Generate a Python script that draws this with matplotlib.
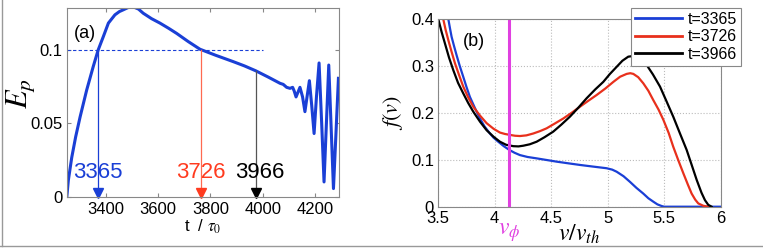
import numpy as np
import matplotlib
matplotlib.use("Agg")
import matplotlib.pyplot as plt
from matplotlib.lines import Line2D

plt.rcParams['font.family'] = ['Liberation Sans', 'DejaVu Sans']
plt.rcParams['mathtext.fontset'] = 'stix'

# ---- panel (a) data: E_p vs t/tau0
t_a = [3251, 3257, 3270, 3285, 3302, 3327, 3352, 3371, 3391, 3410, 3435, 3452, 3467,
       3485, 3505, 3525, 3543, 3575, 3607, 3640, 3671, 3715, 3760, 3820, 3887, 3930,
       3973, 4020, 4066, 4078, 4091, 4104, 4114, 4120, 4127, 4134, 4142, 4152, 4161,
       4169, 4178, 4187, 4196, 4205, 4215, 4225, 4234, 4243, 4252, 4261, 4270, 4280,
       4289]
E_a = [0.0, 0.0115, 0.027, 0.041, 0.0545, 0.0726, 0.0885, 0.0998, 0.109, 0.118,
       0.1236, 0.1258, 0.127, 0.1285, 0.129, 0.1275, 0.1247, 0.121, 0.118, 0.1145,
       0.111, 0.1055, 0.1003, 0.0962, 0.0919, 0.089, 0.0857, 0.0815, 0.0772, 0.0765,
       0.0745, 0.0738, 0.0745, 0.072, 0.068, 0.071, 0.0745, 0.068, 0.058, 0.068,
       0.079, 0.062, 0.0432, 0.068, 0.091, 0.05, 0.0104, 0.05, 0.0896, 0.048,
       0.0059, 0.045, 0.0806]

# marker times (label, drawn position, level reached)
mark_labels = ['3365', '3726', '3966']
mark_pos = [3369, 3763, 3973]
mark_level = [0.1, 0.1, 0.0857]
mark_colors = ['#1a3fd6', '#ff3b1f', 'black']
line_colors = ['#1a3fd6', '#ff6a50', '#555555']
label_x = [3370, 3763, 3990]

# ---- panel (b) data: f(v) vs v/v_th
v_blue = [3.589, 3.603, 3.618, 3.64, 3.662, 3.69, 3.721, 3.75, 3.780, 3.825, 3.869,
          3.91, 3.957, 3.99, 4.031, 4.08, 4.129, 4.175, 4.223, 4.29, 4.371, 4.46,
          4.548, 4.65, 4.754, 4.87, 4.99, 5.04, 5.079, 5.14, 5.197, 5.255, 5.315,
          5.36, 5.404, 5.44, 5.478, 5.5, 6.0]
f_blue = [0.4, 0.381, 0.362, 0.342, 0.323, 0.3, 0.277, 0.255, 0.234, 0.21, 0.188,
          0.171, 0.156, 0.147, 0.1385, 0.129, 0.121, 0.115, 0.110, 0.106, 0.103,
          0.0995, 0.096, 0.0925, 0.089, 0.0855, 0.082, 0.079, 0.0746, 0.065, 0.053,
          0.04, 0.028, 0.018, 0.0107, 0.005, 0.0014, 0.0, 0.0]
v_red = [3.544, 3.565, 3.589, 3.618, 3.648, 3.685, 3.721, 3.765, 3.810, 3.87, 3.928,
         3.99, 4.046, 4.09, 4.135, 4.18, 4.223, 4.28, 4.341, 4.40, 4.459, 4.53,
         4.607, 4.68, 4.754, 4.83, 4.902, 4.98, 5.05, 5.11, 5.168, 5.2, 5.227, 5.27,
         5.315, 5.36, 5.404, 5.45, 5.493, 5.54, 5.58, 5.625, 5.67, 5.71, 5.743,
         5.775, 5.802, 5.846, 5.89]
f_red = [0.4, 0.377, 0.355, 0.33, 0.3055, 0.28, 0.256, 0.233, 0.213, 0.194, 0.178,
         0.166, 0.158, 0.155, 0.153, 0.1512, 0.1506, 0.152, 0.156, 0.161, 0.167,
         0.177, 0.188, 0.2, 0.213, 0.226, 0.238, 0.252, 0.266, 0.277, 0.283,
         0.2845, 0.283, 0.276, 0.263, 0.247, 0.227, 0.207, 0.185, 0.157, 0.128,
         0.099, 0.071, 0.047, 0.028, 0.015, 0.007, 0.002, 0.0]
v_black = [3.5, 3.53, 3.559, 3.595, 3.633, 3.675, 3.721, 3.765, 3.810, 3.87, 3.928,
           3.99, 4.046, 4.10, 4.164, 4.21, 4.253, 4.31, 4.371, 4.44, 4.518, 4.59,
           4.666, 4.74, 4.813, 4.89, 4.961, 5.02, 5.079, 5.13, 5.182, 5.22, 5.256,
           5.30, 5.345, 5.40, 5.463, 5.52, 5.58, 5.64, 5.699, 5.745, 5.788, 5.83,
           5.861, 5.89, 5.92]
f_black = [0.4, 0.372, 0.348, 0.318, 0.291, 0.264, 0.2416, 0.221, 0.2025, 0.181,
           0.163, 0.149, 0.1385, 0.132, 0.129, 0.1285, 0.130, 0.133, 0.1385, 0.148,
           0.16, 0.175, 0.192, 0.211, 0.231, 0.25, 0.266, 0.283, 0.298, 0.311,
           0.3197, 0.321, 0.318, 0.312, 0.302, 0.282, 0.256, 0.225, 0.192, 0.156,
           0.121, 0.088, 0.057, 0.03, 0.014, 0.004, 0.0]
v_phase = 4.13

fig = plt.figure(figsize=(7.63, 2.48), dpi=100)

# ---------- panel (a)
ax1 = fig.add_axes([0.0882, 0.2044, 0.3557, 0.762])
ax1.plot(t_a, E_a, color='#1a3fd6', lw=2.2, solid_joinstyle='round')
ax1.plot([3253, 4000], [0.1, 0.1], color='#1a3fd6', lw=0.8, ls=(0, (3, 2)))
for x, lev, c, lc in zip(mark_pos, mark_level, mark_colors, line_colors):
    ax1.plot([x, x], [0, lev], color=lc, lw=0.9)
    ax1.plot([x], [0.003], marker='v', color=c, ms=7, clip_on=False)
for lab, x, c in zip(mark_labels, label_x, mark_colors):
    ax1.text(x, 0.017, lab, color=c, fontsize=16, ha='center', va='center')
ax1.text(3278, 0.111, '(a)', fontsize=13, va='center')
ax1.set_xlim(3253, 4290)
ax1.set_ylim(0, 0.128)
ax1.set_xticks([3400, 3600, 3800, 4000, 4200])
ax1.set_yticks([0, 0.05, 0.1])
ax1.set_yticklabels(['0', '0.05', '0.1'])
ax1.tick_params(direction='in', length=3, labelsize=12, color='#888888', top=True, right=True)
for s in ax1.spines.values():
    s.set_color('#888888')
ax1.set_xlabel(r't  / $\tau_0$', fontsize=12, labelpad=0)
ax1.set_ylabel(r'$E_p$', fontsize=22)
ax1.yaxis.set_label_coords(-0.112, 0.55)

# ---------- panel (b)
ax2 = fig.add_axes([0.5744, 0.1665, 0.3701, 0.7569])
ax2.grid(True, color='#bbbbbb', ls=':', lw=0.8)
ax2.plot(v_blue, f_blue, color='#1a3fd6', lw=1.6, label='t=3365')
ax2.plot(v_red, f_red, color='#e8301c', lw=1.6, label='t=3726')
ax2.plot(v_black, f_black, color='black', lw=1.6, label='t=3966')
ax2.axvline(v_phase, color='#e040e0', lw=2.2)
ax2.text(3.72, 0.351, '(b)', fontsize=13, va='center')
ax2.text(v_phase, -0.03, r'$v_\phi$', color='#e040e0', fontsize=17, ha='center', va='top')
ax2.set_xlim(3.5, 6)
ax2.set_ylim(0, 0.4)
ax2.set_xticks([3.5, 4, 4.5, 5, 5.5, 6])
ax2.set_xticklabels(['3.5', '4', '4.5', '5', '5.5', '6'])
ax2.set_yticks([0, 0.1, 0.2, 0.3, 0.4])
ax2.set_yticklabels(['0', '0.1', '0.2', '0.3', '0.4'])
ax2.tick_params(direction='in', length=0, labelsize=12, pad=3)
for s in ax2.spines.values():
    s.set_color('#888888')
ax2.set_xlabel(r'$v/v_{th}$', fontsize=17, labelpad=-2)
ax2.set_ylabel(r'$f(v)$', fontsize=16, labelpad=4)
leg = ax2.legend(loc='upper right', bbox_to_anchor=(0.981, 1.0), bbox_transform=fig.transFigure,
                 fontsize=11.5, fancybox=False, framealpha=1, edgecolor='#888888',
                 handlelength=3.0, handletextpad=0.3, borderpad=0.25, labelspacing=0.15)
leg.get_frame().set_linewidth(0.8)
for h in leg.get_lines():
    h.set_linewidth(2)

# outer border (left and bottom)
fig.add_artist(Line2D([0.002, 0.002], [0.008, 1], transform=fig.transFigure, color='#999999', lw=1))
fig.add_artist(Line2D([0, 1], [0.008, 0.008], transform=fig.transFigure, color='#999999', lw=1))

fig.savefig('out.png', dpi=100)
